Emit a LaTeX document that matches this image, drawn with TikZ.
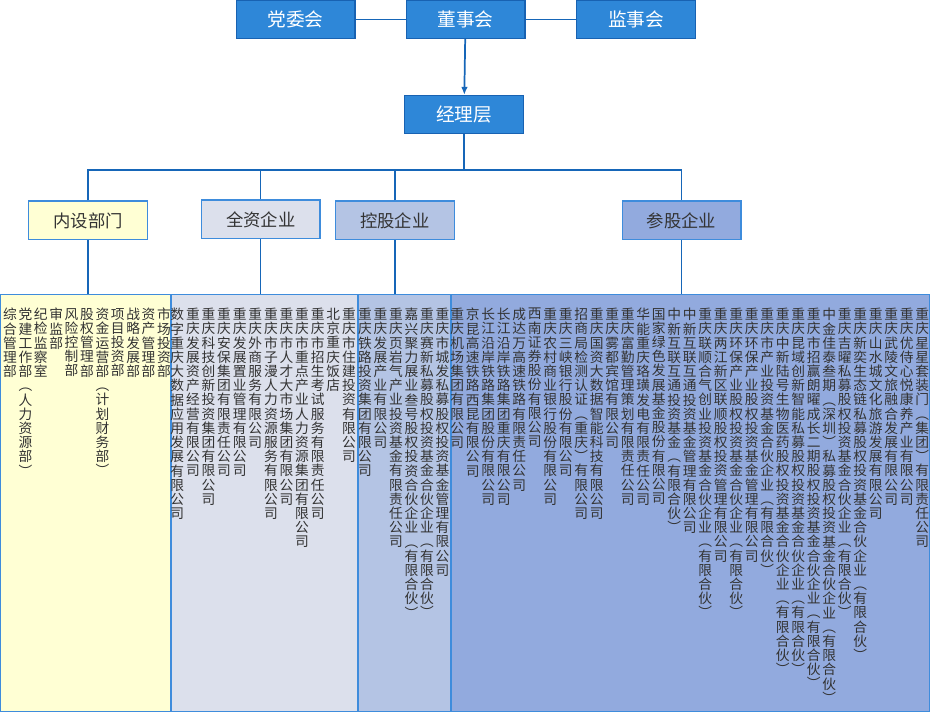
\documentclass[tikz,border=0pt]{standalone}
\usepackage{fontspec}
\setmainfont{Noto Sans CJK SC}
\usetikzlibrary{arrows.meta,positioning,fit}
\definecolor{orgblue}{RGB}{46,135,216}
\definecolor{orgedge}{RGB}{24,98,178}
\definecolor{orgline}{RGB}{22,102,184}
\definecolor{boxedge}{RGB}{62,140,220}
\definecolor{inyellow}{RGB}{255,255,212}
\definecolor{ownfill}{RGB}{220,224,236}
\definecolor{holdfill}{RGB}{180,196,228}
\definecolor{partfill}{RGB}{146,170,222}
\definecolor{txtgray}{RGB}{51,51,51}
% one character per line, for the upright columns
\def\colstackA#1{\ifx\relax#1\else\hbox to 1em{\hss#1\hss}\expandafter\colstackA\fi}
\newcommand\colstack[1]{\vbox{\baselineskip=10.65pt\lineskiplimit=-\maxdimen
    \edef\colstacktmp{#1}\expandafter\colstackA\colstacktmp\relax}}
\tikzset{
    board/.style={
        draw=orgedge,line width=1pt,fill=orgblue,text=white,
        minimum width=89pt,minimum height=28.5pt,
        font=\fontsize{14}{15}\selectfont
    },
    branch/.style={
        draw=boxedge,line width=1pt,fill=#1,text=txtgray,
        minimum width=89pt,minimum height=29pt,
        font=\fontsize{13}{14}\selectfont
    },
    branch/.default=inyellow,
    panel/.style={draw=boxedge,line width=1pt,fill=#1,inner sep=0pt},
    colname/.style={
        anchor=north,inner sep=0pt,text=txtgray,
        font=\fontsize{10.3}{12}\selectfont
    },
    link/.style={draw=orgline,line width=0.9pt},
    arrow/.style={-{Latex[length=6pt,width=5pt]},draw=orgline,line width=1.3pt}
}
\begin{document}
\begin{tikzpicture}[x=0.75pt,y=-0.75pt]
\useasboundingbox (0,0) rectangle (930,712);

% panels
\node[panel=inyellow,fit={(0.5,294.5) (171,711.5)}] (pn) {};
\node[panel=ownfill,fit={(171,294.5) (358,711.5)}] (pq) {};
\node[panel=holdfill,fit={(358,294.5) (451,711.5)}] (pk) {};
\node[panel=partfill,fit={(451,294.5) (929.5,711.5)}] (pc) {};

% top
\node[board] (dw) at (295.5,19.5) {党委会};
\node[board] (ds) at (465.5,19.5) {董事会};
\node[board] (js) at (636,19.5) {监事会};
\node[board] (jl) at (464,114.5) {经理层};

\node[branch] (ns) at (88,220.5) {内设部门};
\node[branch=ownfill] (qz) at (260.8,219.5) {全资企业};
\node[branch=holdfill] (kg) at (394.9,220.5) {控股企业};
\node[branch=partfill] (cg) at (681.5,220.5) {参股企业};

\draw[link] (dw) -- (ds);
\draw[link] (ds) -- (js);
\draw[arrow] (ds) -- (jl);

\coordinate (bus) at (464,170);
\draw[link] (jl.south) -- (bus);
\draw[link] (ns.north) |- (bus) -| (cg.north);
\draw[link] (qz.north) -- (qz.north |- bus);
\draw[link] (kg.north) -- (kg.north |- bus);

\draw[link] (ns.south) -- (ns.south |- pn.north);
\draw[link] (qz.south) -- (qz.south |- pq.north);
\draw[link] (kg.south) -- (kg.south |- pk.north);
\draw[link] (cg.south) -- (cg.south |- pc.north);

% columns
\foreach \t [count=\i] in {综合管理部,党建工作部︵人力资源部︶,纪检监察室,审监部,
    风险控制部,股权管理部,资金运营部︵计划财务部︶,项目投资部,战略发展部,
    资产管理部,市场投资部}
    \node[colname] (n\i) at ({10+15.4*(\i-1)},308) {\colstack{\t}};

\foreach \t [count=\i] in {数字重庆大数据应用发展有限公司,重庆发展资产经营有限公司,
    重庆科技创新投资集团有限公司,重庆安保集团有限责任公司,重庆发展置业管理有限公司,
    重庆外商服务有限公司,重庆市子漫人力资源服务有限公司,重庆市人才大市场集团有限公司,
    重庆市重点产业人力资源集团有限公司,重庆市招生考试服务有限责任公司,北京重庆饭店,
    重庆市住建投资有限公司}
    \node[colname] (q\i) at ({177.3+15.6*(\i-1)},308) {\colstack{\t}};

\foreach \t [count=\i] in {重庆铁路投资集团有限公司,重庆发展产业有限公司,
    重庆页岩气产业投资基金有限责任公司,嘉兴聚力展业叁号股权投资合伙企业︵有限合伙︶,
    重庆赛新私募股权投资基金合伙企业︵有限合伙︶,重庆市城发私募股权投资基金管理有限公司}
    \node[colname] (k\i) at ({365+15.5*(\i-1)},308) {\colstack{\t}};

\foreach \t [count=\i] in {重庆机场集团有限公司,京昆高速铁路西昆有限公司,
    长江沿岸铁路集团股份有限公司,长江沿岸铁路集团重庆有限公司,成达万高速铁路有限责任公司,
    西南证券股份有限公司,重庆农村商业银行股份有限公司,重庆三峡银行股份有限公司,
    招商局检测认证︵重庆︶有限公司,重庆国资大数据智能科技有限公司,重庆雾都宾馆有限公司,
    重庆富勤管理策划有限责任公司,华能重庆珞璜发电有限责任公司,国家绿色发展基金股份有限公司,
    中新互联互通投资基金︵有限合伙︶,中新互联互通投资基金管理有限公司,
    重庆联顺合气创业投资基金合伙企业︵有限合伙︶,重庆两江新区联顺股权投资管理有限公司,
    重庆环保产业股权投资基金合伙企业︵有限合伙︶,重庆环保产业股权投资基金管理有限公司,
    重庆市产业投资基金合伙企业︵有限合伙︶,重庆中新陆号生物医药股权投资基金合伙企业︵有限合伙︶,
    重庆昆域创新智能私募股权投资基金合伙企业︵有限合伙︶,
    重庆市招赢朗曜成长二期股权投资基金合伙企业︵有限合伙︶,
    中金佳泰叁期︵深圳︶私募股权投资基金合伙企业︵有限合伙︶,
    重庆吉曜私募股权投资基金合伙企业︵有限合伙︶,重庆新奕生态链私募股权投资基金合伙企业︵有限合伙︶,
    重庆山水城文化旅游发展有限公司,重庆武陵文旅融合发展有限公司,重庆优侍心悦康养产业有限公司,
    重庆星星套装门︵集团︶有限责任公司}
    \node[colname] (c\i) at ({457.3+15.5*(\i-1)},308) {\colstack{\t}};

\end{tikzpicture}
\end{document}
